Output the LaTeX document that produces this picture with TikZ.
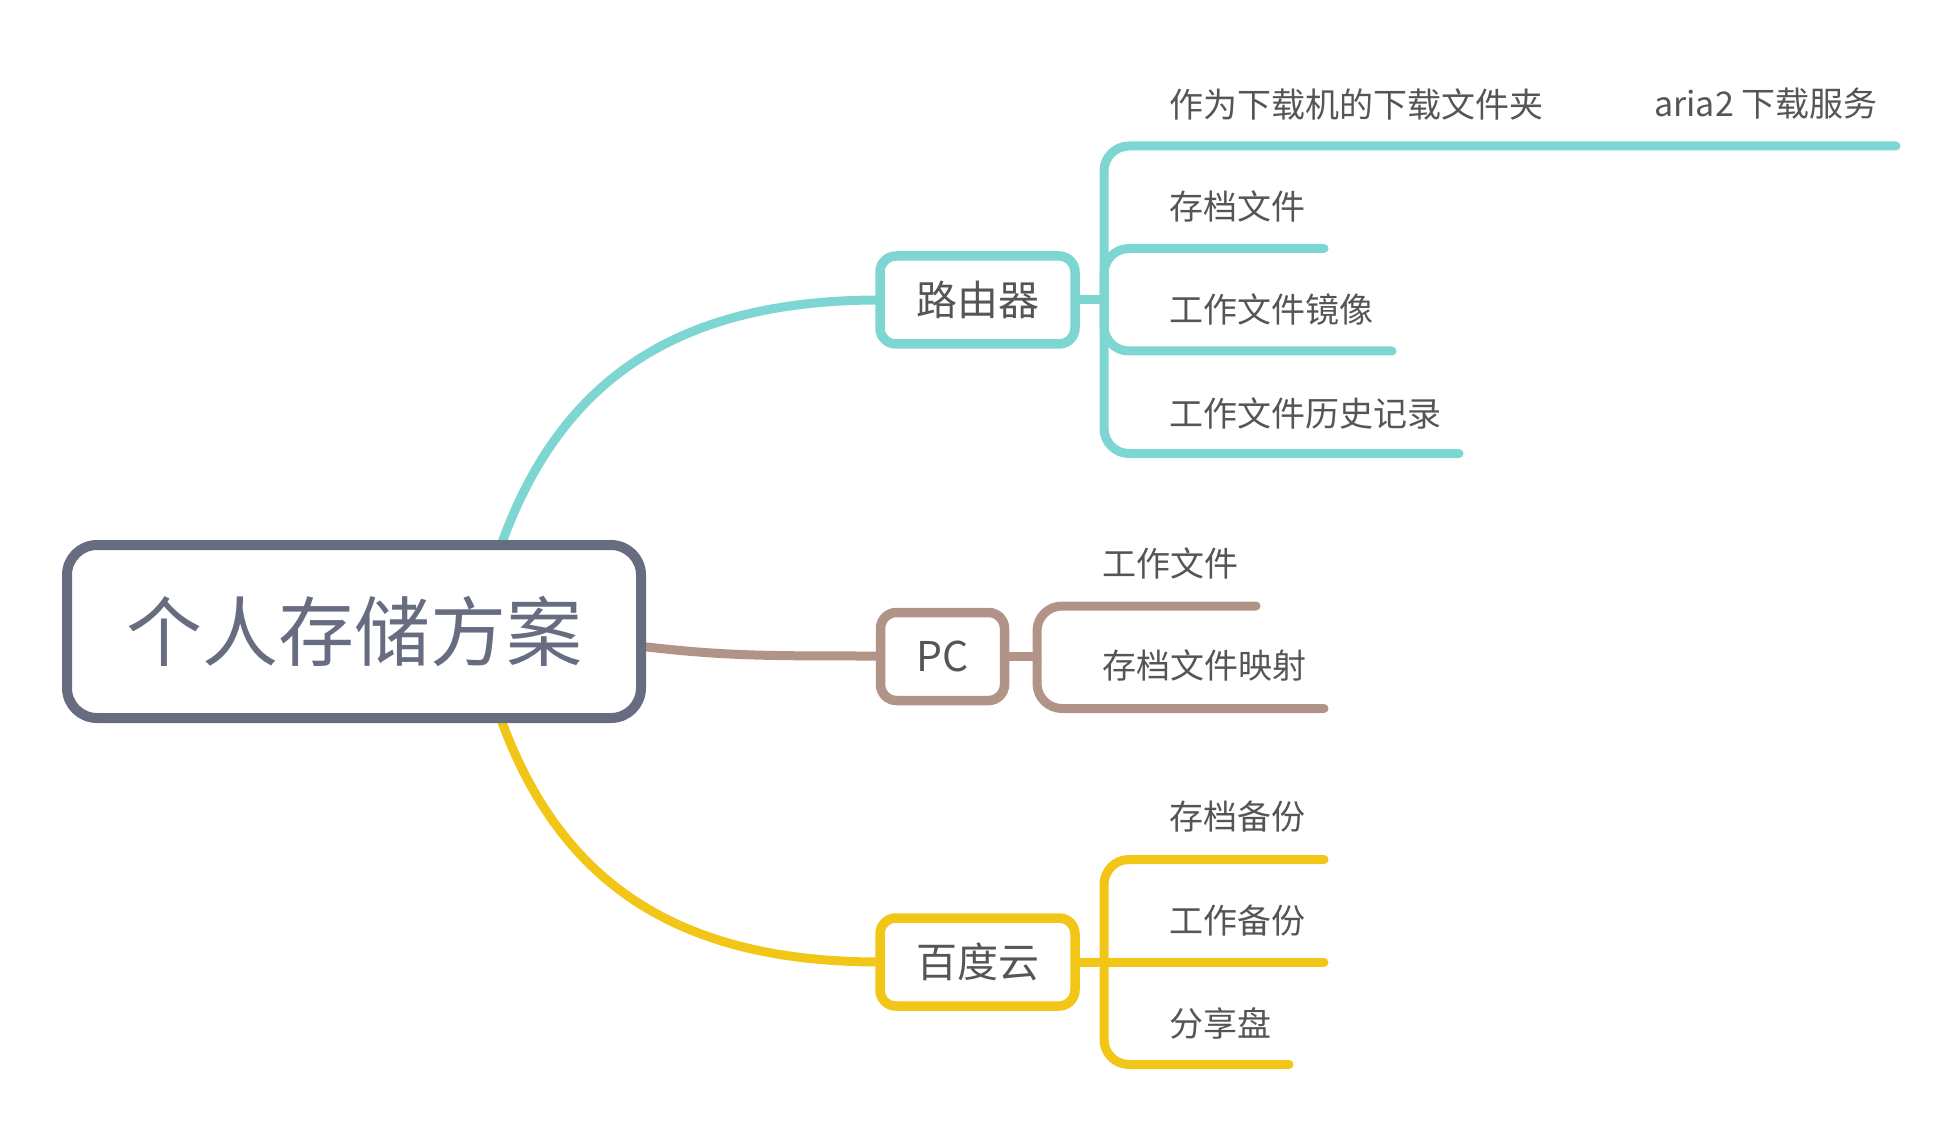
\documentclass[tikz,border=0pt]{standalone}
\usepackage{fontspec}
\setmainfont{Noto Sans CJK SC}
\definecolor{cTeal}{HTML}{7ED6D2}
\definecolor{cBrown}{HTML}{B29388}
\definecolor{cYellow}{HTML}{F2C617}
\definecolor{cRoot}{HTML}{686C80}
\definecolor{cText}{HTML}{555555}
\begin{document}
\begin{tikzpicture}[x=1pt,y=-1pt,
  lnk/.style={line width=9pt, line cap=round},
  br/.style={line width=9pt, line cap=round, rounded corners=25pt},
  stub/.style={line width=9pt},
  leaf/.style={anchor=west, inner sep=0pt, font=\fontsize{34}{40}\selectfont, text=cText},
  subbox/.style={draw, line width=9.5pt, rounded corners=16pt, fill=white, minimum height=88pt, inner sep=0pt, font=\fontsize{41}{48}\selectfont, text=cText},
]
\useasboundingbox (0,0) rectangle (1959,1131);

% anchor coordinates
\coordinate (rtop) at (496,560);
\coordinate (rright) at (630,645);
\coordinate (rbot) at (496,705);

% main connectors (drawn first, boxes cover their starts)
\draw[lnk, cTeal] (rtop) .. controls (555,380) and (676,300) .. (880,300);
\draw[lnk, cBrown] (rright) .. controls (720,656) and (760,656) .. (880,656);
\draw[lnk, cYellow] (rbot) .. controls (555,882) and (676,962) .. (880,962);

% root
\node[draw=cRoot, line width=10pt, rounded corners=30pt, fill=white,
      minimum width=574pt, minimum height=173pt, inner sep=0pt,
      text=cRoot, font=\fontsize{76}{86}\selectfont] (root) at (354,631.5) {个人存储方案};

% sub topics
\node[subbox, draw=cTeal, minimum width=195pt] (rt) at (977.5,300) {路由器};
\node[subbox, draw=cBrown, minimum width=124pt] (pc) at (942.5,656.5) {PC};
\node[subbox, draw=cYellow, minimum width=195pt] (bd) at (977.5,962) {百度云};

% router branches
\coordinate (rj) at (1104,300);
\draw[stub, cTeal] (rt.east) -- (rj);
\node[leaf] (r1) at (1169,104) {作为下载机的下载文件夹};
\node[leaf] (r1a) at (1654,104) {aria2 下载服务};
\node[leaf] (r2) at (1169,206) {存档文件};
\node[leaf] (r3) at (1169,310) {工作文件镜像};
\node[leaf] (r4) at (1169,413) {工作文件历史记录};
\coordinate (r1e) at (1630,146);
\coordinate (r1ae) at (1896,146);
\coordinate (r2e) at (1324,248.5);
\coordinate (r3e) at (1392,351);
\coordinate (r4e) at (1459,453.5);
\draw[br, cTeal] (rj) |- (r1e) -- (r1ae);
\draw[br, cTeal] (rj) |- (r2e);
\draw[br, cTeal] (rj) |- (r3e);
\draw[br, cTeal] (rj) |- (r4e);

% PC branches
\coordinate (pj) at (1037,656.5);
\draw[stub, cBrown] (pc.east) -- (pj);
\node[leaf] (p1) at (1102,563) {工作文件};
\node[leaf] (p2) at (1102,666) {存档文件映射};
\coordinate (p1e) at (1256,606);
\coordinate (p2e) at (1324,708.5);
\draw[br, cBrown] (pj) |- (p1e);
\draw[br, cBrown] (pj) |- (p2e);

% Baidu branches
\coordinate (bj) at (1104,962);
\draw[stub, cYellow] (bd.east) -- (bj);
\node[leaf] (b1) at (1169,817) {存档备份};
\node[leaf] (b2) at (1169,921) {工作备份};
\node[leaf] (b3) at (1169,1023) {分享盘};
\coordinate (b1e) at (1324,859.5);
\coordinate (b2e) at (1324,962);
\coordinate (b3e) at (1289,1064.5);
\draw[br, cYellow] (bj) |- (b1e);
\draw[br, cYellow] (bj) -- (b2e);
\draw[br, cYellow] (bj) |- (b3e);
\end{tikzpicture}
\end{document}
